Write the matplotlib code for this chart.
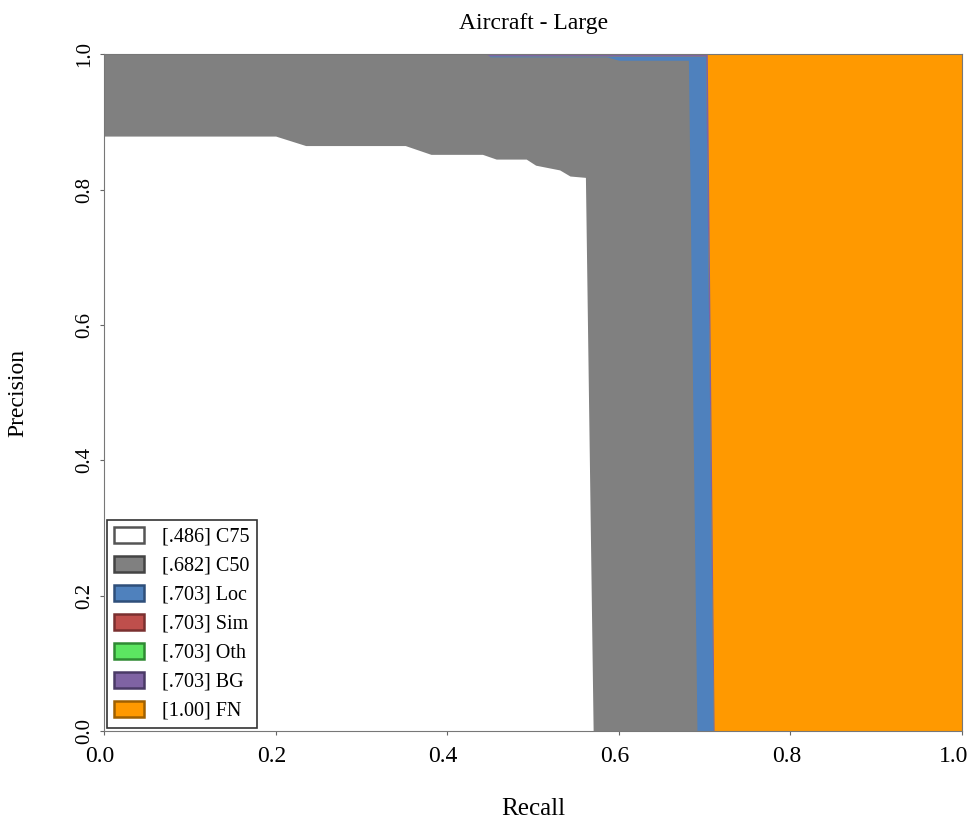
import matplotlib.pyplot as plt
import matplotlib.patches as mpatches
import matplotlib.transforms as mtransforms

plt.rcParams['font.family'] = ['Liberation Serif', 'DejaVu Serif']

# PR curves (recall, precision)
c75_rec = [0.0, 0.200, 0.235, 0.351, 0.381, 0.441, 0.457, 0.492, 0.503, 0.531, 0.543, 0.561, 0.570]
c75_prec = [0.879, 0.879, 0.865, 0.865, 0.852, 0.852, 0.845, 0.845, 0.836, 0.829, 0.820, 0.818, 0.0]

c50_rec = [0.0, 0.446, 0.450, 0.586, 0.600, 0.681, 0.691]
c50_prec = [1.0, 1.0, 0.996, 0.996, 0.991, 0.991, 0.0]

loc_rec = [0.0, 0.610, 0.701, 0.710]
loc_prec = [1.0, 0.997, 0.997, 0.0]

sim_rec = loc_rec
sim_prec = loc_prec
oth_rec = loc_rec
oth_prec = loc_prec

bg_rec = [0.0, 0.703, 0.711]
bg_prec = [1.0, 1.0, 0.0]

fn_rec = [0.0, 1.0]
fn_prec = [1.0, 1.0]

labels = ['[.486] C75', '[.682] C50', '[.703] Loc', '[.703] Sim',
          '[.703] Oth', '[.703] BG', '[1.00] FN']
colors = ['#ffffff', '#808080', '#4f81bd', '#bf4f4c', '#5ce561', '#7f63a3', '#ff9900']
edges = ['#555555', '#444444', '#2f4f7a', '#7a3030', '#2f8a33', '#4a3a66', '#a06000']

curves = [(c75_rec, c75_prec), (c50_rec, c50_prec), (loc_rec, loc_prec),
          (sim_rec, sim_prec), (oth_rec, oth_prec), (bg_rec, bg_prec),
          (fn_rec, fn_prec)]

fig = plt.figure(figsize=(9.74, 8.21), dpi=100)
ax = fig.add_axes([0.1068, 0.1096, 0.881, 0.8244])

# draw from the outermost curve inward, like the coco analyze plot
for i in range(len(curves) - 1, -1, -1):
    r, p = curves[i]
    ax.fill_between(r, p, 0, color=colors[i], linewidth=0)

ax.set_xlim(0, 1)
ax.set_ylim(0, 1)
ax.set_xticks([0, 0.2, 0.4, 0.6, 0.8, 1.0])
ax.set_yticks([0, 0.2, 0.4, 0.6, 0.8, 1.0])
ax.set_xticklabels(['0.0', '0.2', '0.4', '0.6', '0.8', '1.0'], fontsize=17)
ax.set_yticklabels(['0.0', '0.2', '0.4', '0.6', '0.8', '1.0'], fontsize=15,
                   rotation=90, va='center')
ax.tick_params(axis='x', length=3, color='#666666', pad=8)
ax.tick_params(axis='y', length=3, color='#666666', pad=4)
for s in ax.spines.values():
    s.set_color('#777777')

# tick labels sit a little left of their ticks in the reference
xt = ax.get_xticklabels()
for t in xt[:-1]:
    t.set_transform(t.get_transform() + mtransforms.ScaledTranslation(-4 / 100, 0, fig.dpi_scale_trans))
xt[-1].set_transform(xt[-1].get_transform() + mtransforms.ScaledTranslation(-9 / 100, 0, fig.dpi_scale_trans))

ax.set_xlabel('Recall', fontsize=18, labelpad=22)
ax.set_ylabel('Precision', fontsize=17, labelpad=34)
ax.set_title('Aircraft - Large', fontsize=17, pad=18)

handles = [mpatches.Patch(facecolor=colors[i], edgecolor=edges[i], linewidth=1.8,
                          label=labels[i]) for i in range(len(labels))]
leg = ax.legend(handles=handles, loc='lower left', fontsize=14.5, fancybox=False,
                edgecolor='#333333', framealpha=1, handlelength=1.5,
                handleheight=0.85, handletextpad=0.9, labelspacing=0.45,
                borderaxespad=0.15, borderpad=0.35)
leg.get_frame().set_linewidth(1.2)

plt.savefig('out.png')
